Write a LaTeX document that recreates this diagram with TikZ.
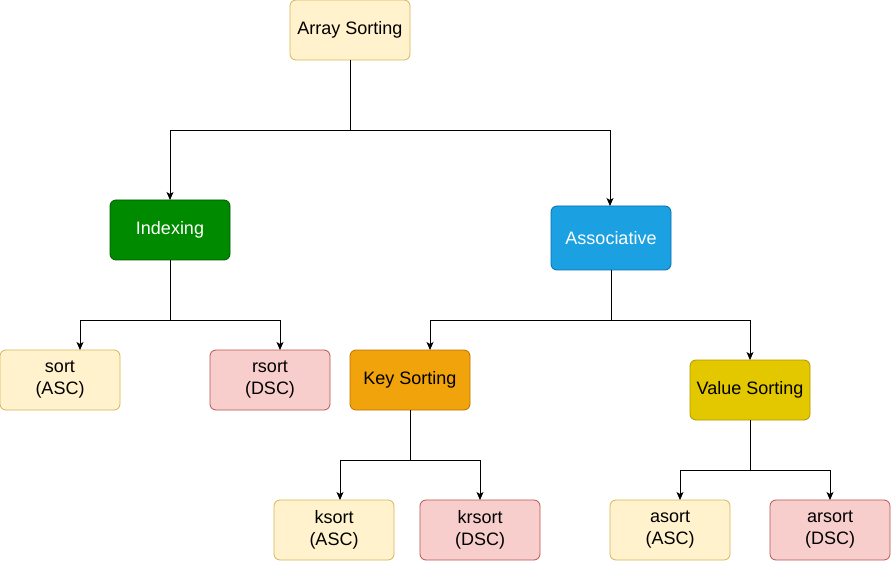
\documentclass[tikz,border=0pt]{standalone}
\usepackage{fontspec}
\setmainfont{Liberation Sans}
\usetikzlibrary{arrows.meta}
\definecolor{ylwF}{HTML}{FFF2CC}\definecolor{ylwD}{HTML}{D6B656}
\definecolor{redF}{HTML}{F8CECC}\definecolor{redD}{HTML}{B85450}
\definecolor{grnF}{HTML}{008A00}\definecolor{grnD}{HTML}{005700}
\definecolor{bluF}{HTML}{1BA1E2}\definecolor{bluD}{HTML}{006EAF}
\definecolor{orgF}{HTML}{F0A30A}\definecolor{orgD}{HTML}{BD7000}
\definecolor{goldF}{HTML}{E3C800}\definecolor{goldD}{HTML}{B09500}
\tikzset{
  box/.style={rounded corners=6pt, line width=0.8pt, minimum width=120pt, minimum height=60pt,
    inner sep=0pt, outer sep=0pt, align=center, font=\fontsize{18}{22}\selectfont},
  ylw/.style={box, fill=ylwF, draw=ylwD},
  red/.style={box, fill=redF, draw=redD},
  arr/.style={line width=0.8pt, -{Stealth[length=8pt,width=7pt,inset=2pt]}},
  ln/.style={line width=0.8pt}
}
\begin{document}
\begin{tikzpicture}[x=1pt,y=-1pt]
\useasboundingbox (0,0) rectangle (891,561);
\node[ylw] (root) at (350,30) {Array Sorting};
\node[box, fill=grnF, draw=grnD, text=white] (idx) at (170,230) {Indexing};
\node[box, fill=bluF, draw=bluD, text=white, minimum height=64pt] (asc) at (611,238) {Associative};
\node[ylw] (sort) at (60,380) {sort\\(ASC)};
\node[red] (rsort) at (270,380) {rsort\\(DSC)};
\node[box, fill=orgF, draw=orgD] (ks) at (410,380) {Key Sorting};
\node[box, fill=goldF, draw=goldD] (vs) at (750,390) {Value Sorting};
\node[ylw] (ksort) at (334,530) {ksort\\(ASC)};
\node[red] (krsort) at (480,530) {krsort\\(DSC)};
\node[ylw] (asort) at (670,530) {asort\\(ASC)};
\node[red] (arsort) at (830,530) {arsort\\(DSC)};
% junction coordinates
\coordinate (j1) at (350,130);
\coordinate (j2) at (170,320);
\coordinate (j3) at (611,320);
\coordinate (j4) at (410,460);
\coordinate (j5) at (750,470);
\coordinate (t1) at (80,350);
\coordinate (t2) at (280,350);
\coordinate (t3) at (430,350);
\coordinate (t4) at (340,500);
\coordinate (t5) at (680,500);
% connectors
\draw[ln] (root.south) -- (j1);
\draw[arr] (j1) -| (idx.north);
\draw[arr] (j1) -| (610,206);
\draw[ln] (idx.south) -- (j2);
\draw[arr] (j2) -| (t1);
\draw[arr] (j2) -| (t2);
\draw[ln] (asc.south) -- (j3);
\draw[arr] (j3) -| (t3);
\draw[arr] (j3) -| (vs.north);
\draw[ln] (ks.south) -- (j4);
\draw[arr] (j4) -| (t4);
\draw[arr] (j4) -| (krsort.north);
\draw[ln] (vs.south) -- (j5);
\draw[arr] (j5) -| (t5);
\draw[arr] (j5) -| (arsort.north);
\end{tikzpicture}
\end{document}
